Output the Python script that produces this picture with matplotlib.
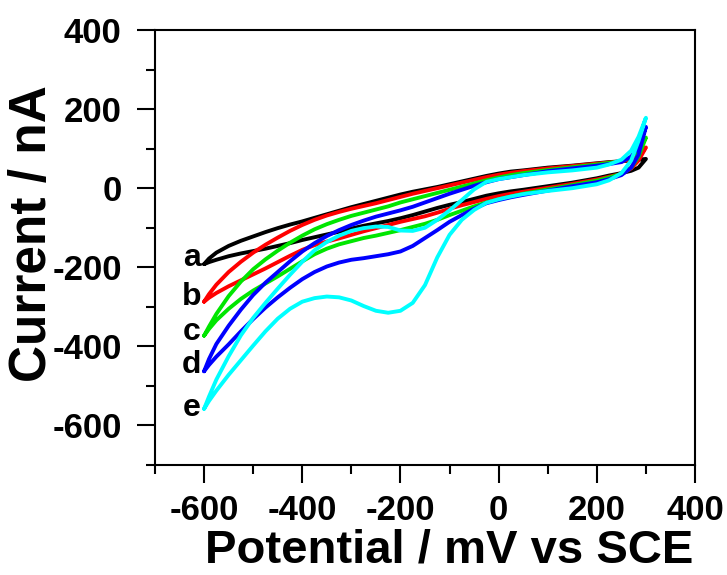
import numpy as np
import matplotlib
matplotlib.use("Agg")
import matplotlib.pyplot as plt
from matplotlib.ticker import MultipleLocator

plt.rcParams['font.family'] = ['Liberation Sans', 'DejaVu Sans']
plt.rcParams['font.weight'] = 'bold'
plt.rcParams['axes.unicode_minus'] = False

# potential grid (mV vs SCE), shared by both sweep directions
potential = [-600, -590, -575, -550, -525, -500, -475, -450, -425, -400, -375, -350,
             -325, -300, -275, -250, -225, -200, -175, -150, -125, -100, -75, -50,
             -25, 0, 25, 50, 100, 150, 200, 225, 250, 270, 285, 300]

# current (nA), upper branch of each loop
a_upper = [-192, -178, -163, -146, -133, -122, -111, -101, -92, -84, -75, -66,
           -57, -48, -40, -32, -24, -16, -9, -3, 3, 10, 17, 24,
           31, 37, 42, 45, 52, 57, 63, 66, 68, 70, 72, 74]
b_upper = [-287, -268, -244, -212, -186, -163, -143, -125, -108, -93, -80, -69,
           -60, -52, -45, -38, -30, -22, -14, -7, 0, 7, 14, 21,
           28, 34, 39, 43, 50, 56, 62, 65, 68, 72, 82, 103]
c_upper = [-373, -350, -318, -273, -236, -205, -180, -158, -138, -120, -104, -91,
           -80, -70, -62, -54, -46, -36, -28, -20, -12, -4, 4, 12,
           20, 27, 33, 38, 46, 53, 60, 64, 68, 78, 95, 128]
d_upper = [-463, -432, -394, -348, -307, -270, -239, -212, -185, -160, -139, -121,
           -106, -93, -82, -72, -64, -56, -47, -36, -25, -14, -4, 6,
           15, 23, 28, 33, 43, 50, 57, 61, 66, 80, 105, 155]
e_upper = [-558, -527, -484, -425, -372, -328, -290, -254, -219, -186, -157, -136,
           -120, -108, -101, -97, -98, -107, -108, -100, -80, -56, -30, -3,
           16, 23, 28, 33, 40, 45, 52, 60, 72, 95, 130, 178]

# current (nA), lower branch of each loop
a_lower = [-192, -187, -181, -172, -165, -159, -153, -146, -139, -131, -124, -117,
           -110, -102, -95, -89, -83, -76, -68, -59, -50, -42, -35, -27,
           -19, -13, -8, -4, 5, 14, 25, 32, 38, 44, 52, 74]
b_lower = [-287, -277, -265, -248, -233, -218, -203, -187, -171, -156, -144, -135,
           -127, -118, -109, -101, -93, -85, -78, -71, -62, -52, -43, -35,
           -27, -20, -14, -9, 1, 11, 22, 29, 36, 50, 70, 103]
c_lower = [-373, -356, -334, -305, -280, -259, -241, -223, -204, -185, -167, -153,
           -142, -134, -126, -120, -113, -106, -98, -90, -80, -68, -57, -46,
           -36, -28, -21, -14, -3, 8, 19, 27, 36, 52, 80, 128]
d_lower = [-463, -447, -426, -395, -362, -331, -302, -276, -252, -230, -212, -198,
           -188, -181, -177, -172, -167, -160, -146, -126, -106, -85, -68, -52,
           -38, -30, -23, -17, -6, 5, 15, 23, 33, 52, 85, 155]
e_lower = [-558, -538, -512, -472, -435, -398, -362, -330, -305, -287, -278, -274,
           -276, -284, -298, -310, -315, -310, -290, -245, -175, -118, -80, -55,
           -37, -28, -21, -15, -7, 0, 10, 20, 38, 70, 120, 178]

labels = ['a', 'b', 'c', 'd', 'e']
label_y = [-177, -274, -363, -447, -557]
colors = ['black', '#ff0000', '#00e600', '#0000ff', '#00ffff']
uppers = [a_upper, b_upper, c_upper, d_upper, e_upper]
lowers = [a_lower, b_lower, c_lower, d_lower, e_lower]

fig = plt.figure(figsize=(7.27, 5.75), dpi=100)
ax = fig.add_axes([0.2132, 0.1913, 0.7428, 0.7565])

for up, low, col in zip(uppers, lowers, colors):
    x = potential + potential[::-1]
    y = up + low[::-1]
    ax.plot(x, y, color=col, lw=2.8, solid_capstyle='round', solid_joinstyle='round')

for lab, ly in zip(labels, label_y):
    ax.text(-625, ly, lab, fontsize=23, fontweight='bold', ha='center', va='center')

ax.set_xlim(-700, 400)
ax.set_ylim(-700, 400)
ax.xaxis.set_major_locator(MultipleLocator(200))
ax.xaxis.set_minor_locator(MultipleLocator(100))
ax.yaxis.set_major_locator(MultipleLocator(200))
ax.yaxis.set_minor_locator(MultipleLocator(100))
ax.tick_params(which='major', direction='out', length=13, width=1.5, labelsize=25)
ax.tick_params(axis='x', which='major', pad=8)
ax.tick_params(axis='y', which='major', pad=11)
ax.tick_params(which='minor', direction='out', length=6.5, width=1.5)
for s in ax.spines.values():
    s.set_linewidth(1.5)

ax.set_xlabel('Potential / mV vs SCE', fontsize=34, fontweight='bold')
ax.set_ylabel('Current / nA', fontsize=37, fontweight='bold')
ax.xaxis.set_label_coords(0.544, -0.147)
ax.yaxis.set_label_coords(-0.181, 0.533)

fig.savefig('out.png', dpi=100)
